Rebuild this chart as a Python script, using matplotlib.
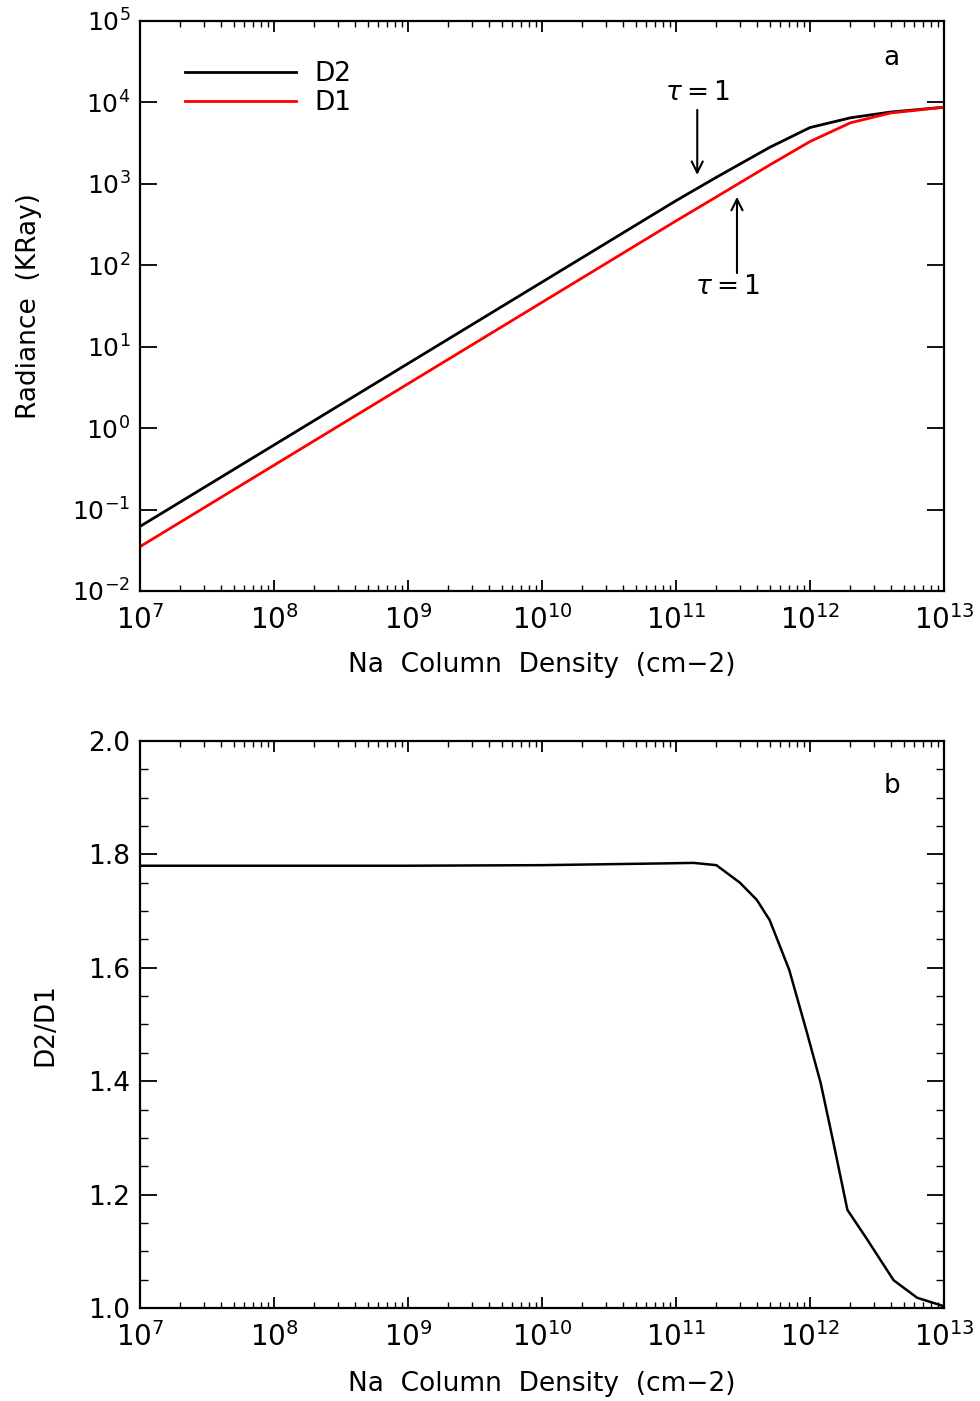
import numpy as np
import matplotlib
matplotlib.use("Agg")
import matplotlib.pyplot as plt
from matplotlib.ticker import (LogLocator, NullLocator, NullFormatter, FixedLocator,
                               MultipleLocator, FormatStrFormatter, LogFormatterMathtext)

plt.rcParams['font.family'] = ['DejaVu Sans']
plt.rcParams['mathtext.fontset'] = 'dejavusans'

# ---- data ----
# panel a: radiance vs Na column density
col_density = [1e7, 1e8, 1e9, 1e10, 1e11, 2e11, 5e11, 1e12, 2e12, 4e12, 1e13]
radiance_d2 = [0.062, 0.62, 6.2, 62, 620, 1200, 2800, 4900, 6450, 7600, 8700]
radiance_d1 = [0.035, 0.35, 3.5, 35, 350, 690, 1700, 3300, 5600, 7400, 8700]

# panel b: D2/D1 ratio
ratio_density = [1e7, 1e8, 1e9, 1e10, 7.6e10, 1.35e11, 2e11, 3e11, 4e11, 5e11,
                 7e11, 9.5e11, 1.2e12, 1.5e12, 1.9e12, 2.6e12, 4.2e12, 6.3e12, 1e13]
ratio_d2_d1 = [1.780, 1.780, 1.780, 1.781, 1.784, 1.785, 1.781, 1.750, 1.720, 1.684,
               1.596, 1.485, 1.397, 1.290, 1.173, 1.125, 1.049, 1.018, 1.003]

# tau = 1 markers (column density, arrow tail, arrow tip)
tau_d2 = (1.44e11, 8070, 1285)
tau_d1 = (2.85e11, 80, 690)

x_ticks = [1e7, 1e8, 1e9, 1e10, 1e11, 1e12, 1e13]
y_ticks_a = [1e-2, 1e-1, 1e0, 1e1, 1e2, 1e3, 1e4, 1e5]

fig = plt.figure(figsize=(9.8, 14.01), dpi=100)
ax1 = fig.add_axes([0.1429, 0.5782, 0.8204, 0.4069])
ax2 = fig.add_axes([0.1429, 0.0664, 0.8204, 0.4047])

label_fs = 19
tick_fs = 19


def style_xaxis(ax, label_y):
    ax.set_xscale("log")
    ax.set_xlim(1e7, 1e13)
    ax.xaxis.set_major_locator(FixedLocator(x_ticks))
    ax.xaxis.set_major_formatter(LogFormatterMathtext())
    ax.xaxis.set_minor_locator(LogLocator(base=10, subs=np.arange(2, 10), numticks=20))
    ax.xaxis.set_minor_formatter(NullFormatter())
    ax.tick_params(axis="x", which="major", direction="in", length=8, width=1.3,
                   top=True, bottom=True, labelsize=tick_fs + 1, pad=10)
    ax.tick_params(axis="x", which="minor", direction="in", length=4, width=1.0,
                   top=True, bottom=True)
    ax.set_xlabel("Na  Column  Density  (cm\u22122)", fontsize=label_fs)
    ax.xaxis.set_label_coords(0.5, label_y)
    for s in ax.spines.values():
        s.set_linewidth(1.6)


# ---- panel a ----
ax1.plot(col_density, radiance_d2, color="black", lw=2.0, label="D2")
ax1.plot(col_density, radiance_d1, color="red", lw=2.0, label="D1")
style_xaxis(ax1, -0.107)
ax1.set_yscale("log")
ax1.set_ylim(1e-2, 1e5)
ax1.yaxis.set_major_locator(FixedLocator(y_ticks_a))
ax1.yaxis.set_major_formatter(LogFormatterMathtext())
ax1.yaxis.set_minor_locator(NullLocator())
ax1.tick_params(axis="y", which="major", direction="in", length=12, width=1.3,
                left=True, right=True, labelsize=tick_fs - 1, pad=7)
ax1.set_ylabel("Radiance  (KRay)", fontsize=label_fs)
ax1.yaxis.set_label_coords(-0.122, 0.5)

leg = ax1.legend(loc="upper left", bbox_to_anchor=(0.056, 0.93), frameon=False,
                 fontsize=label_fs, handlelength=4.2, handletextpad=0.7,
                 borderpad=0, borderaxespad=0, labelspacing=0.12)

ax1.text(0.935, 0.935, "a", transform=ax1.transAxes, fontsize=label_fs,
         ha="center", va="center")

arrow_style = dict(arrowstyle="->,head_length=0.8,head_width=0.4",
                   lw=1.5, color="black", shrinkA=0, shrinkB=0)
ax1.annotate("", xy=(tau_d2[0], tau_d2[2]), xytext=(tau_d2[0], tau_d2[1]),
             arrowprops=arrow_style)
ax1.text(tau_d2[0], 13000, r"$\tau=1$", fontsize=tick_fs, ha="center", va="center")
ax1.annotate("", xy=(tau_d1[0], tau_d1[2]), xytext=(tau_d1[0], tau_d1[1]),
             arrowprops=arrow_style)
ax1.text(2.4e11, 54, r"$\tau=1$", fontsize=tick_fs, ha="center", va="center")

# ---- panel b ----
ax2.plot(ratio_density, ratio_d2_d1, color="black", lw=1.8)
style_xaxis(ax2, -0.112)
ax2.set_ylim(1.0, 2.0)
ax2.yaxis.set_major_locator(MultipleLocator(0.2))
ax2.yaxis.set_minor_locator(MultipleLocator(0.05))
ax2.yaxis.set_major_formatter(FormatStrFormatter("%.1f"))
ax2.tick_params(axis="y", which="major", direction="in", length=12, width=1.3,
                left=True, right=True, labelsize=tick_fs, pad=7)
ax2.tick_params(axis="y", which="minor", direction="in", length=6, width=1.0,
                left=True, right=True)
ax2.set_ylabel("D2/D1", fontsize=label_fs)
ax2.yaxis.set_label_coords(-0.102, 0.5)
ax2.text(0.935, 0.92, "b", transform=ax2.transAxes, fontsize=label_fs,
         ha="center", va="center")

fig.savefig("out.png", dpi=100)
